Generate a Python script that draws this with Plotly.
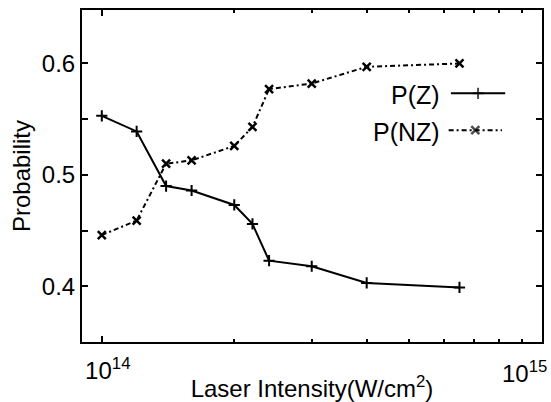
import plotly.graph_objects as go

intensity = [1.0e14, 1.2e14, 1.4e14, 1.6e14, 2.0e14, 2.2e14, 2.4e14, 3.0e14, 4.0e14, 6.5e14]
p_z = [0.553, 0.539, 0.490, 0.486, 0.473, 0.456, 0.423, 0.418, 0.403, 0.399]
p_nz = [0.446, 0.459, 0.510, 0.513, 0.526, 0.543, 0.577, 0.582, 0.597, 0.600]
series_names = ["P(Z)", "P(NZ)"]
x_major = [1e14, 1e15]
x_major_text = ["10<sup>14</sup>", "10<sup>15</sup>"]
x_minor = [k * 1e14 for k in range(2, 10)]
y_ticks = [0.4, 0.5, 0.6]

FONT = "Liberation Sans, Arial, Helvetica, sans-serif"
DASHDOT = "5px,3px,2px,3px"

fig = go.Figure()
fig.add_trace(go.Scatter(
    x=intensity, y=p_z, mode="lines+markers", name=series_names[0],
    line=dict(color="black", width=2),
    marker=dict(symbol="cross-thin", size=8, line=dict(color="black", width=2)),
    showlegend=False))
fig.add_trace(go.Scatter(
    x=intensity, y=p_nz, mode="lines+markers", name=series_names[1],
    line=dict(color="black", width=2, dash=DASHDOT),
    marker=dict(symbol="x-thin", size=8, line=dict(color="black", width=2.5)),
    showlegend=False))

# manual legend (text left, sample right) on an overlay axis in [0,1]
leg_rows = [
    (0.749, 0.802, 0.920, None, "cross-thin", 2),
    (0.638, 0.797, 0.913, DASHDOT, "x-thin", 2.5),
]
for (yy, x0, x1, dash, sym, mw), name in zip(leg_rows, series_names):
    xm = (x0 + x1) / 2
    fig.add_trace(go.Scatter(
        x=[x0, xm, x1], y=[yy, yy, yy], xaxis="x2", yaxis="y2",
        mode="lines+markers",
        line=dict(color="black", width=2, dash=dash),
        marker=dict(symbol=sym, size=[0, 8, 0], line=dict(color="black", width=mw)),
        showlegend=False, hoverinfo="skip"))
    fig.add_annotation(x=0.775, y=yy, xref="paper", yref="paper", yshift=-2, xshift=3,
                       text=name, showarrow=False, xanchor="right", yanchor="middle",
                       font=dict(family=FONT, size=25, color="black"))

# the 10^15 label sits at the right edge; draw it inside the page
tick_text_shown = [x_major_text[0], ""]
fig.add_annotation(x=15, y=0, xref="x", yref="paper", text=x_major_text[1],
                   showarrow=False, xanchor="right", yanchor="top",
                   xshift=7, yshift=-13,
                   font=dict(family=FONT, size=24, color="black"))

fig.update_layout(
    width=551, height=402,
    margin=dict(l=82, r=9, t=10, b=60, autoexpand=False),
    paper_bgcolor="white", plot_bgcolor="white",
    font=dict(family=FONT, size=24, color="black"),
    xaxis=dict(
        type="log", range=[13.955, 15.0005], automargin=False,
        tickmode="array", tickvals=x_major, ticktext=tick_text_shown,
        ticks="inside", ticklen=6, tickwidth=1.5, tickcolor="black",
        ticklabelstandoff=6, ticklabelshift=6,
        minor=dict(tickmode="array", tickvals=x_minor, ticks="inside", ticklen=3,
                   tickwidth=1.5, tickcolor="black", showgrid=False),
        showline=True, linecolor="black", linewidth=2, mirror="allticks",
        showgrid=False, zeroline=False,
        title=dict(text="Laser Intensity(W/cm<sup>2</sup>)", standoff=4,
                   font=dict(size=24)),
        tickfont=dict(size=24),
    ),
    yaxis=dict(
        range=[0.35, 0.648], automargin=False,
        tickmode="array", tickvals=y_ticks, ticktext=[f"{v:.1f}" for v in y_ticks],
        ticks="inside", ticklen=6, tickwidth=1.5, tickcolor="black",
        minor=dict(dtick=0.05, tick0=0.35, ticks="inside", ticklen=6,
                   tickwidth=1.5, tickcolor="black", showgrid=False),
        showline=True, linecolor="black", linewidth=2, mirror="allticks",
        showgrid=False, zeroline=False,
        title=dict(text="Probability", standoff=4, font=dict(size=24)),
        tickfont=dict(size=24),
    ),
    xaxis2=dict(overlaying="x", range=[0, 1], visible=False, fixedrange=True),
    yaxis2=dict(overlaying="y", range=[0, 1], visible=False, fixedrange=True),
)

fig.write_html("out.html")
